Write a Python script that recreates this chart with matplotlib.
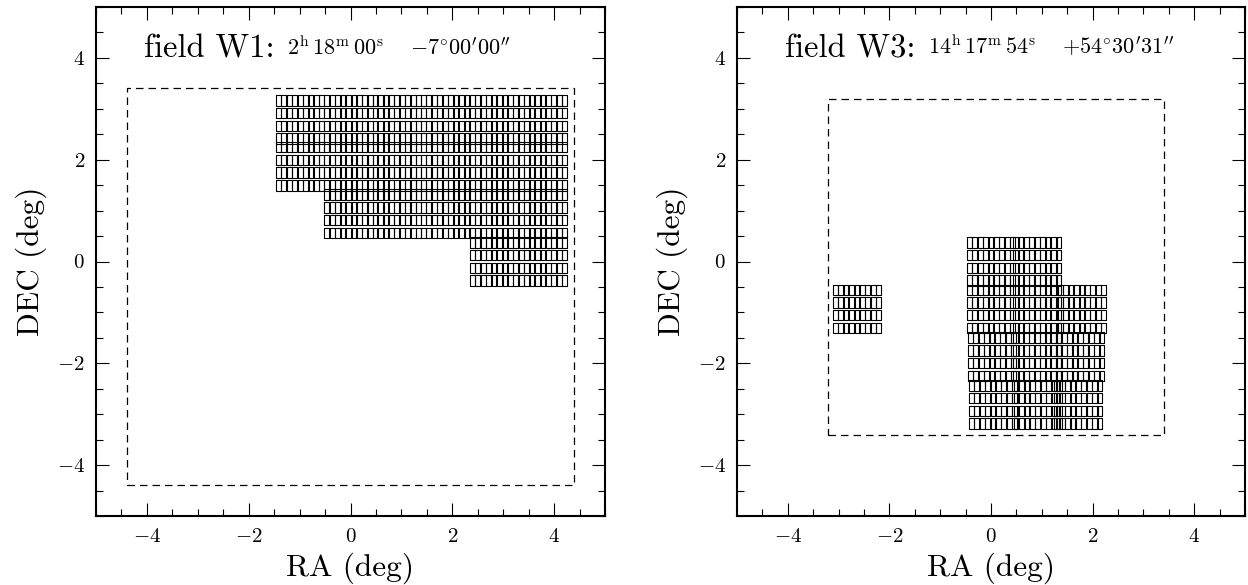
import numpy as np
import matplotlib as mpl
import matplotlib.pyplot as plt
from matplotlib.patches import Rectangle
from matplotlib.collections import PatchCollection
from matplotlib.ticker import MultipleLocator

mpl.rcParams['font.family'] = 'serif'
mpl.rcParams['font.serif'] = ['cmr10']
mpl.rcParams['mathtext.fontset'] = 'cm'
mpl.rcParams['axes.formatter.use_mathtext'] = True

# pointing centres (deg, offsets from field centre)
w1_ra = [-0.99, -0.04, 0.91, 1.86, 2.82, 3.78,
         -0.99, -0.04, 0.91, 1.86, 2.82, 3.78,
         -0.04, 0.91, 1.86, 2.82, 3.78,
         2.82, 3.78]
w1_dec = [2.79, 2.79, 2.79, 2.79, 2.79, 2.79,
          1.87, 1.87, 1.87, 1.87, 1.87, 1.87,
          0.94, 0.94, 0.94, 0.94, 0.94,
          0.00, 0.00]

w3_ra = [0.00, 0.91,
         -2.64, 0.00, 0.91, 1.79,
         0.02, 0.91, 1.76,
         0.04, 0.92, 1.72]
w3_dec = [0.00, 0.00,
          -0.93, -0.93, -0.93, -0.93,
          -1.87, -1.87, -1.87,
          -2.81, -2.81, -2.81]

# survey area outlines: ra_min, ra_max, dec_min, dec_max
w1_box = [-4.4, 4.4, -4.4, 3.4]
w3_box = [-3.2, 3.4, -3.4, 3.2]

w1_name = "field W1:"
w1_coord = r"$2^{\rm h}\,18^{\rm m}\,00^{\rm s}\quad\ {-}7^{\circ}00'00''$"
w3_name = "field W3:"
w3_coord = r"$14^{\rm h}\,17^{\rm m}\,54^{\rm s}\quad\ {+}54^{\circ}30'31''$"

# camera layout: 9 x 4 CCDs
NX, NY = 9, 4
pitch_x, pitch_y = 0.1067, 0.25
ccd_w, ccd_h = 0.094, 0.205


def draw_field(ax, ra, dec, box, name, coord):
    rects = []
    for r0, d0 in zip(ra, dec):
        for i in range(NX):
            for j in range(NY):
                cx = r0 + (i - (NX - 1) / 2.0) * pitch_x
                cy = d0 + (j - (NY - 1) / 2.0) * pitch_y
                rects.append(Rectangle((cx - ccd_w / 2, cy - ccd_h / 2), ccd_w, ccd_h))
    pc = PatchCollection(rects, facecolor='none', edgecolor='black', linewidth=0.8)
    ax.add_collection(pc)

    x0, x1, y0, y1 = box
    ax.plot([x0, x1, x1, x0, x0], [y0, y0, y1, y1, y0], color='black',
            linewidth=0.9, linestyle=(0, (6, 4)))

    t = ax.text(-4.05, 4.18, name, fontsize=23.5, va='center', ha='left')
    ax.annotate(coord, xy=(1, 0.16), xycoords=t, xytext=(9, 0),
                textcoords='offset points', fontsize=16, va='bottom', ha='left')

    ax.set_xlim(-5, 5)
    ax.set_ylim(-5, 5)
    ax.xaxis.set_major_locator(MultipleLocator(2))
    ax.xaxis.set_minor_locator(MultipleLocator(0.5))
    ax.yaxis.set_major_locator(MultipleLocator(2))
    ax.yaxis.set_minor_locator(MultipleLocator(0.5))
    ax.tick_params(which='both', direction='in', top=True, right=True, width=0.8)
    ax.tick_params(which='major', length=9.5, labelsize=15)
    ax.tick_params(axis='x', which='major', pad=9)
    ax.tick_params(axis='y', which='major', pad=8)
    ax.tick_params(which='minor', length=5)
    for s in ax.spines.values():
        s.set_linewidth(1.5)
    ax.set_xlabel("RA (deg)", fontsize=22.5, labelpad=4)
    ax.set_ylabel("DEC (deg)", fontsize=22.5, labelpad=7)


fig = plt.figure(figsize=(12.48, 5.85), dpi=100)
ax1 = fig.add_axes([96 / 1248, 69 / 585, 509 / 1248, 509 / 585])
ax2 = fig.add_axes([737 / 1248, 69 / 585, 508 / 1248, 509 / 585])

draw_field(ax1, w1_ra, w1_dec, w1_box, w1_name, w1_coord)
draw_field(ax2, w3_ra, w3_dec, w3_box, w3_name, w3_coord)

fig.savefig("out.png", dpi=100)
